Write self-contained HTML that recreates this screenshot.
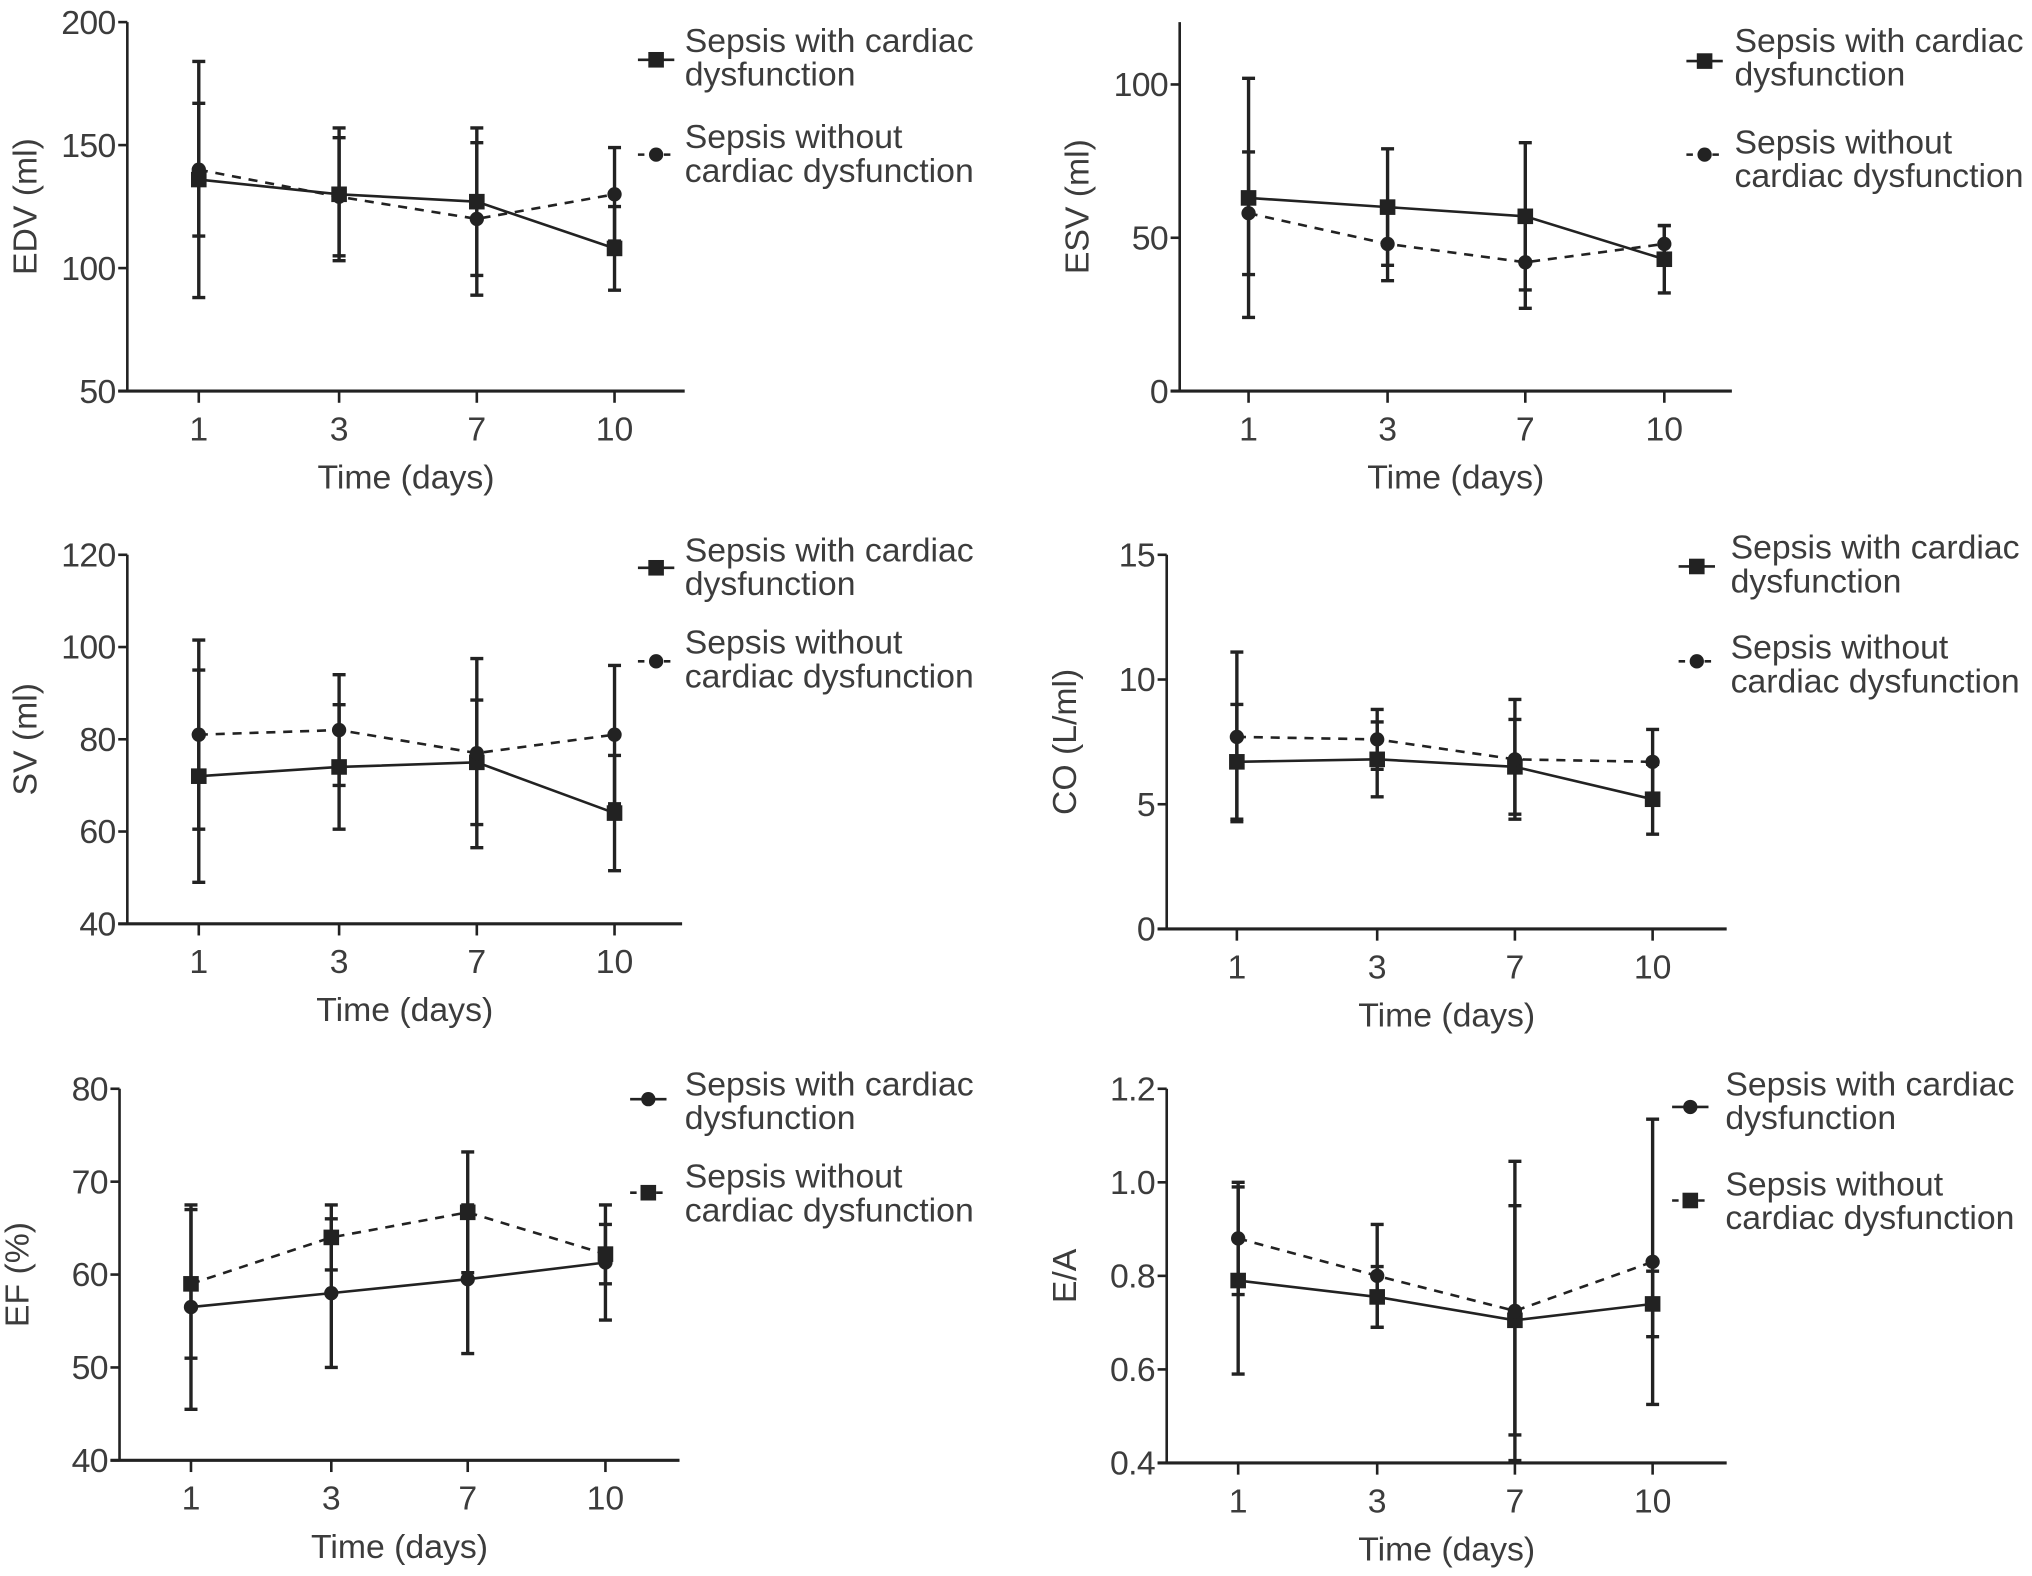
<!DOCTYPE html>
<html><head><meta charset="utf-8"><style>
html,body{margin:0;padding:0;background:#fff;}
svg{display:block;font-family:"Liberation Sans",Arial,sans-serif;}
</style></head><body>
<svg id="fig" width="2032" height="1576" viewBox="0 0 1564 1213" xmlns="http://www.w3.org/2000/svg"></svg>
<script>
const categories = ['1','3','7','10'];
// EDV
const edvWith = [136,130,127,108];
const edvWithSd = [48,27,30,17];
const edvWithout = [140,129,120,130];
const edvWithoutSd = [27,24,31,19];
const edvTicks = [50,100,150,200];
// ESV
const esvWith = [63,60,57,43];
const esvWithSd = [39,19,24,11];
const esvWithout = [58,48,42,48];
const esvWithoutSd = [20,12,15,6];
const esvTicks = [0,50,100];
// SV
const svWith = [72,74,75,64];
const svWithSd = [23,13.5,13.5,12.5];
const svWithout = [81,82,77,81];
const svWithoutSd = [20.5,12,20.5,15];
const svTicks = [40,60,80,100,120];
// CO
const coWith = [6.7,6.8,6.5,5.2];
const coWithSd = [2.3,1.5,1.9,1.4];
const coWithout = [7.7,7.6,6.8,6.7];
const coWithoutSd = [3.4,1.2,2.4,1.3];
const coTicks = [0,5,10,15];
// EF
const efWith = [56.5,58,59.5,61.3];
const efWithSd = [11,8,8,6.2];
const efWithout = [59,64,66.7,62.2];
const efWithoutSd = [8,3.5,6.5,3.2];
const efTicks = [40,50,60,70,80];
// E/A
const eaWith = [0.79,0.755,0.705,0.74];
const eaWithSd = [0.2,0.065,0.245,0.07];
const eaWithout = [0.88,0.80,0.725,0.83];
const eaWithoutSd = [0.12,0.11,0.32,0.305];
const eaTicks = ['0.4','0.6','0.8','1.0','1.2'];

const NS='http://www.w3.org/2000/svg';
const svg=document.getElementById('fig');
function mk(tag,attrs,parent){const e=document.createElementNS(NS,tag);for(const k in attrs)e.setAttribute(k,attrs[k]);(parent||svg).appendChild(e);return e;}
const INK='#222', TXT='#3c3c3c';

function marker(g,shape,x,y){
  if(shape==='square'){
    const m=mk('rect',{x:x-6,y:y-6,width:12,height:12,fill:INK},g);
    
    
  } else {
    const m=mk('circle',{cx:x,cy:y,r:5.5,fill:INK},g);
    
    
  }
}

function panel(p){
  const g=mk('g',{});
  
  
  const tv=p.ticks.map(Number);
  const vmin=tv[0], vmax=tv[tv.length-1];
  const yS=v=>p.yBot+(v-vmin)/(vmax-vmin)*(p.yTop-p.yBot);
  const xS=i=>p.xt[i];
  const ya=mk('line',{x1:p.ax,y1:p.axTop,x2:p.ax,y2:p.yBot,stroke:INK,'stroke-width':2},g);
  
  
  const xa=mk('line',{x1:p.ax-7,y1:p.yBot,x2:p.axRight,y2:p.yBot,stroke:INK,'stroke-width':2.4},g);
  
  
  p.ticks.forEach(t=>{
    const y=yS(Number(t));
    mk('line',{x1:p.ax-7,y1:y,x2:p.ax,y2:y,stroke:INK,'stroke-width':2},g);
    const tx=mk('text',{x:p.ax-9,y:y+9,'text-anchor':'end','font-size':26,fill:TXT,'letter-spacing':'-0.5'},g);
    tx.textContent=t;
    
    
  });
  categories.forEach((c,i)=>{
    const x=xS(i);
    mk('line',{x1:x,y1:p.yBot,x2:x,y2:p.yBot+9,stroke:INK,'stroke-width':2},g);
    const tx=mk('text',{x:x,y:p.yBot+38,'text-anchor':'middle','font-size':26,fill:TXT},g);
    tx.textContent=c;
    
    
  });
  const xt=mk('text',{x:(p.ax+p.axRight)/2,y:p.yBot+75,'text-anchor':'middle','font-size':26,fill:TXT},g);
  xt.textContent='Time (days)';
  
  
  const cy=(p.axTop+p.yBot)/2;
  const yt=mk('text',{x:p.ax-70,y:cy,'text-anchor':'middle','font-size':26,fill:TXT,transform:`rotate(-90 ${p.ax-70} ${cy})`},g);
  yt.textContent=p.ytitle;
  
  
  p.series.forEach(s=>{
    const sg=mk('g',{},g);
    
    
    s.v.forEach((v,i)=>{
      const x=xS(i), hi=yS(v+s.sd[i]), lo=yS(v-s.sd[i]);
      const eb=mk('path',{d:`M${x},${hi}V${lo}M${x-5},${hi}H${x+5}M${x-5},${lo}H${x+5}`,stroke:INK,'stroke-width':2.6,fill:'none'},sg);
      
      
    });
    const pts=s.v.map((v,i)=>`${xS(i)},${yS(v)}`).join(' ');
    const ln=mk('polyline',{points:pts,fill:'none',stroke:INK,'stroke-width':2,'stroke-dasharray':s.dash?'7,6':'none'},sg);
    
    
    s.v.forEach((v,i)=>marker(sg,s.shape,xS(i),yS(v)));
  });
  p.legend.forEach(L=>{
    const lg=mk('g',{},g);
    
    
    mk('line',{x1:L.mx-14,y1:L.my,x2:L.mx+14,y2:L.my,stroke:INK,'stroke-width':2,'stroke-dasharray':L.dash?'5,5':'none'},lg);
    marker(lg,L.shape,L.mx,L.my);
    L.lines.forEach((t,k)=>{
      const tx=mk('text',{x:L.tx,y:L.ty+k*26,'font-size':26,fill:TXT},lg);
      tx.textContent=t;
    });
  });
}

const W1='Sepsis with cardiac', W2='dysfunction', O1='Sepsis without', O2='cardiac dysfunction';
panel({name:'edv-panel',ytitle:'EDV (ml)',ticks:edvTicks,ax:98,axTop:17,yTop:17,yBot:301,axRight:527,xt:[153,261,367,473],
 series:[{name:'series-with',v:edvWith,sd:edvWithSd,shape:'square',dash:false},{name:'series-without',v:edvWithout,sd:edvWithoutSd,shape:'circle',dash:true}],
 legend:[{mx:505,my:46,shape:'square',dash:false,tx:527,ty:40,lines:[W1,W2]},{mx:505,my:119,shape:'circle',dash:true,tx:527,ty:114,lines:[O1,O2]}]});
panel({name:'esv-panel',ytitle:'ESV (ml)',ticks:esvTicks,ax:908,axTop:17,yTop:65,yBot:301,axRight:1333,xt:[961,1068,1174,1281],
 series:[{name:'series-with',v:esvWith,sd:esvWithSd,shape:'square',dash:false},{name:'series-without',v:esvWithout,sd:esvWithoutSd,shape:'circle',dash:true}],
 legend:[{mx:1312,my:47,shape:'square',dash:false,tx:1335,ty:40,lines:[W1,W2]},{mx:1312,my:119,shape:'circle',dash:true,tx:1335,ty:118,lines:[O1,O2]}]});
panel({name:'sv-panel',ytitle:'SV (ml)',ticks:svTicks,ax:98,axTop:427,yTop:427,yBot:711,axRight:525,xt:[153,261,367,473],
 series:[{name:'series-with',v:svWith,sd:svWithSd,shape:'square',dash:false},{name:'series-without',v:svWithout,sd:svWithoutSd,shape:'circle',dash:true}],
 legend:[{mx:505,my:437,shape:'square',dash:false,tx:527,ty:432,lines:[W1,W2]},{mx:505,my:509,shape:'circle',dash:true,tx:527,ty:503,lines:[O1,O2]}]});
panel({name:'co-panel',ytitle:'CO (L/ml)',ticks:coTicks,ax:898,axTop:427,yTop:427,yBot:715,axRight:1329,xt:[952,1060,1166,1272],
 series:[{name:'series-with',v:coWith,sd:coWithSd,shape:'square',dash:false},{name:'series-without',v:coWithout,sd:coWithoutSd,shape:'circle',dash:true}],
 legend:[{mx:1306,my:436,shape:'square',dash:false,tx:1332,ty:430,lines:[W1,W2]},{mx:1306,my:509,shape:'circle',dash:true,tx:1332,ty:507,lines:[O1,O2]}]});
panel({name:'ef-panel',ytitle:'EF (%)',ticks:efTicks,ax:92,axTop:838,yTop:838,yBot:1124,axRight:523,xt:[147,255,360,466],
 series:[{name:'series-with',v:efWith,sd:efWithSd,shape:'circle',dash:false},{name:'series-without',v:efWithout,sd:efWithoutSd,shape:'square',dash:true}],
 legend:[{mx:499,my:846,shape:'circle',dash:false,tx:527,ty:843,lines:[W1,W2]},{mx:499,my:918,shape:'square',dash:true,tx:527,ty:914,lines:[O1,O2]}]});
panel({name:'ea-panel',ytitle:'E/A',ticks:eaTicks,ax:898,axTop:838,yTop:838,yBot:1126,axRight:1329,xt:[953,1060,1166,1272],
 series:[{name:'series-with',v:eaWith,sd:eaWithSd,shape:'square',dash:false},{name:'series-without',v:eaWithout,sd:eaWithoutSd,shape:'circle',dash:true}],
 legend:[{mx:1301,my:852,shape:'circle',dash:false,tx:1328,ty:843,lines:[W1,W2]},{mx:1301,my:924,shape:'square',dash:true,tx:1328,ty:920,lines:[O1,O2]}]});
</script>
</body></html>
